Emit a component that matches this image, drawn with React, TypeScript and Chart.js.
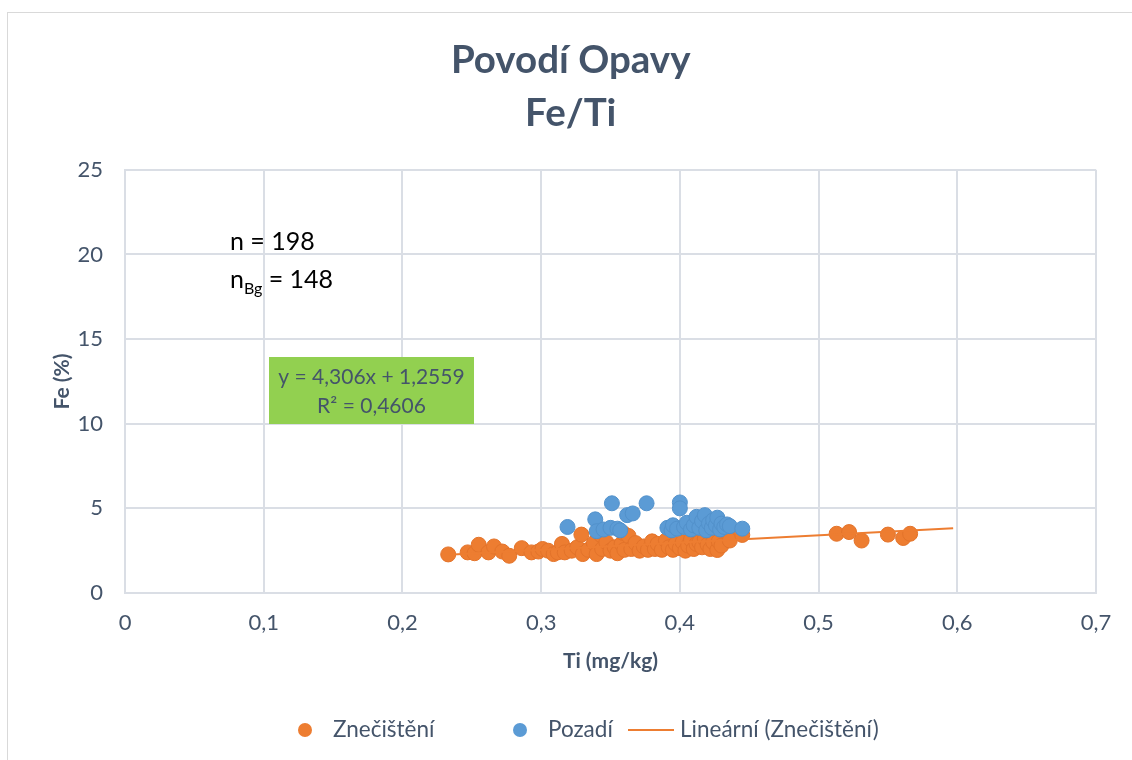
import React, { useEffect, useRef } from 'react';
import { Chart, registerables } from 'chart.js';

Chart.register(...registerables);

const TITLE_LINES = ['Povodí Opavy', 'Fe/Ti'];
const X_TITLE = 'Ti (mg/kg)';
const Y_TITLE = 'Fe (%)';
const SERIES_NAMES = ['Znečištění', 'Pozadí', 'Lineární (Znečištění)'];

const znecX = [
  0.233, 0.247, 0.252, 0.255, 0.262, 0.266, 0.272, 0.277, 0.286, 0.293,
  0.298, 0.301, 0.305, 0.309, 0.312, 0.315, 0.317, 0.322, 0.326, 0.329,
  0.330, 0.334, 0.338, 0.340, 0.343, 0.344, 0.347, 0.350, 0.353, 0.355,
  0.358, 0.359, 0.360, 0.363, 0.365, 0.368, 0.371, 0.374, 0.377, 0.380,
  0.382, 0.384, 0.387, 0.390, 0.392, 0.395, 0.397, 0.400, 0.402, 0.404,
  0.406, 0.408, 0.410, 0.412, 0.414, 0.416, 0.418, 0.420, 0.422, 0.424,
  0.427, 0.428, 0.430, 0.434, 0.436, 0.445, 0.513, 0.522, 0.531, 0.550,
  0.561, 0.566,
];
const znecY = [
  2.28, 2.4, 2.35, 2.85, 2.4, 2.75, 2.45, 2.2, 2.65, 2.4,
  2.45, 2.6, 2.5, 2.3, 2.4, 2.9, 2.4, 2.5, 2.7, 3.45,
  2.3, 2.55, 2.95, 2.3, 3.43, 2.6, 3.0, 2.5, 2.7, 2.35,
  2.9, 3.55, 2.55, 3.37, 2.6, 2.95, 2.5, 2.75, 2.55, 3.05,
  2.6, 2.9, 2.55, 3.1, 2.7, 2.55, 2.9, 2.65, 3.0, 2.5,
  2.8, 3.15, 2.6, 2.9, 3.0, 2.7, 3.2, 2.85, 2.6, 3.0,
  2.54, 3.05, 2.8, 3.55, 3.1, 3.43, 3.5, 3.6, 3.1, 3.45,
  3.25, 3.5,
];

const pozadiX = [
  0.319, 0.339, 0.340, 0.345, 0.350, 0.351, 0.355, 0.357, 0.362, 0.366,
  0.376, 0.391, 0.394, 0.395, 0.398, 0.400, 0.400, 0.403, 0.405, 0.408,
  0.410, 0.412, 0.414, 0.416, 0.418, 0.419, 0.421, 0.423, 0.424, 0.426,
  0.427, 0.429, 0.430, 0.432, 0.434, 0.436, 0.445,
];
const pozadiY = [
  3.9, 4.35, 3.65, 3.75, 3.85, 5.3, 3.8, 3.7, 4.6, 4.7,
  5.3, 3.85, 3.7, 4.0, 3.8, 5.35, 5.0, 3.9, 4.15, 3.75,
  4.0, 4.5, 3.85, 4.25, 4.6, 3.7, 4.1, 3.85, 4.3, 4.0,
  4.45, 3.75, 4.1, 3.9, 4.05, 3.95, 3.8,
];

const TREND_SLOPE = 4.306;
const TREND_INTERCEPT = 1.2559;
const TREND_X = [0.233, 0.597];
const EQ_LINES = ['y = 4,306x + 1,2559', 'R² = 0,4606'];
const N_TOTAL = 198;
const N_BG = 148;

const X_MIN = 0, X_MAX = 0.7, X_STEP = 0.1;
const Y_MIN = 0, Y_MAX = 25, Y_STEP = 5;

const ORANGE = '#ED7D31';
const BLUE = '#5B9BD5';
const TEXT = '#44546A';
const GRID = '#dadee5';
const FONT = 'Lato, "Open Sans", sans-serif';

const fmt = (v: number) => String(Math.round(v * 10) / 10).replace('.', ',');

const overlayPlugin = {
  id: 'overlay',
  afterDraw(chart: any) {
    const ctx = chart.ctx as CanvasRenderingContext2D;
    ctx.save();
    // n labels
    ctx.fillStyle = '#000';
    ctx.textBaseline = 'middle';
    ctx.textAlign = 'left';
    ctx.font = `25px ${FONT}`;
    ctx.fillText(`n = ${N_TOTAL}`, 222, 229);
    ctx.fillText('n', 222, 267);
    const nW = ctx.measureText('n').width;
    ctx.font = `16px ${FONT}`;
    ctx.fillText('Bg', 222 + nW, 276);
    const bgW = ctx.measureText('Bg').width;
    ctx.font = `25px ${FONT}`;
    ctx.fillText(` = ${N_BG}`, 222 + nW + bgW, 267);

    // green equation box
    ctx.fillStyle = '#92D050';
    ctx.fillRect(261, 344, 205, 67);
    ctx.fillStyle = TEXT;
    ctx.textAlign = 'center';
    ctx.font = `21px ${FONT}`;
    ctx.fillText(EQ_LINES[0], 363.5, 364);
    ctx.fillText(EQ_LINES[1], 363.5, 393);

    // legend
    const ly = 717;
    ctx.textAlign = 'left';
    ctx.font = `22.5px ${FONT}`;
    const drawDot = (x: number, c: string) => {
      ctx.beginPath();
      ctx.arc(x, ly, 7, 0, Math.PI * 2);
      ctx.fillStyle = c;
      ctx.fill();
    };
    drawDot(297, ORANGE);
    ctx.fillStyle = TEXT;
    ctx.fillText(SERIES_NAMES[0], 325, ly);
    drawDot(512, BLUE);
    ctx.fillStyle = TEXT;
    ctx.fillText(SERIES_NAMES[1], 540, ly);
    ctx.beginPath();
    ctx.moveTo(620, ly);
    ctx.lineTo(666, ly);
    ctx.strokeStyle = ORANGE;
    ctx.lineWidth = 2;
    ctx.stroke();
    ctx.fillStyle = TEXT;
    ctx.fillText(SERIES_NAMES[2], 672, ly);
    ctx.restore();
  },
};

export default function App() {
  const canvasRef = useRef<HTMLCanvasElement | null>(null);

  useEffect(() => {
    if (!canvasRef.current) return;
    Chart.defaults.font.family = FONT;
    const chart = new Chart(canvasRef.current, {
      type: 'scatter',
      data: {
        datasets: [
          {
            type: 'line',
            label: SERIES_NAMES[2],
            data: TREND_X.map((x) => ({ x, y: TREND_SLOPE * x + TREND_INTERCEPT })),
            borderColor: ORANGE,
            borderWidth: 2,
            pointRadius: 0,
            fill: false,
            order: 1,
          },
          {
            label: SERIES_NAMES[1],
            data: pozadiX.map((x, i) => ({ x, y: pozadiY[i] })),
            backgroundColor: BLUE,
            borderColor: '#5291cb',
            borderWidth: 1,
            pointRadius: 7.5,
            pointHoverRadius: 7.5,
            order: 2,
          },
          {
            label: SERIES_NAMES[0],
            data: znecX.map((x, i) => ({ x, y: znecY[i] })),
            backgroundColor: ORANGE,
            borderColor: '#e3732a',
            borderWidth: 1,
            pointRadius: 7.5,
            pointHoverRadius: 7.5,
            order: 3,
          },
        ],
      } as any,
      options: {
        animation: false,
        responsive: true,
        maintainAspectRatio: false,
        layout: { padding: { left: 37.4, right: 44, top: 0, bottom: 86.4 } },
        plugins: {
          legend: { display: false },
          tooltip: { enabled: false },
          title: {
            display: true,
            text: TITLE_LINES,
            color: TEXT,
            font: { family: FONT, size: 38.5, weight: 'bold', lineHeight: 1.377 },
            padding: { top: 21.5, bottom: 29.3 },
          },
        },
        scales: {
          x: {
            type: 'linear',
            min: X_MIN,
            max: X_MAX,
            ticks: {
              stepSize: X_STEP,
              callback: (v: any) => fmt(Number(v)),
              color: TEXT,
              font: { size: 22 },
              padding: 17,
            },
            grid: { color: GRID, lineWidth: 2, drawTicks: false },
            border: { display: true, color: GRID, width: 2 },
            title: {
              display: true,
              text: X_TITLE,
              color: TEXT,
              font: { size: 21, weight: 'bold' },
              padding: { top: -5, bottom: 0 },
            },
          },
          y: {
            type: 'linear',
            min: Y_MIN,
            max: Y_MAX,
            ticks: {
              stepSize: Y_STEP,
              callback: (v: any) => fmt(Number(v)),
              color: TEXT,
              font: { size: 22 },
              padding: 22,
            },
            grid: { color: GRID, lineWidth: 2, drawTicks: false },
            border: { display: true, color: GRID, width: 2 },
            title: {
              display: true,
              text: Y_TITLE,
              color: TEXT,
              font: { size: 21, weight: 'bold' },
              padding: { top: 4, bottom: -19.1 },
            },
          },
        },
      } as any,
      plugins: [overlayPlugin],
    });
    return () => chart.destroy();
  }, []);

  return (
    <div style={{ position: 'fixed', left: 0, top: 0, width: 1132, height: 760, overflow: 'hidden', background: '#fff' }}>
      <div style={{ position: 'absolute', left: 7, top: 12, width: 1140, height: 760, border: '1px solid #d9d9d9' }}>
        <div style={{ position: 'absolute', left: 0, top: 0, width: 1132, height: 747 }}>
          <canvas ref={canvasRef} />
        </div>
      </div>
    </div>
  );
}
